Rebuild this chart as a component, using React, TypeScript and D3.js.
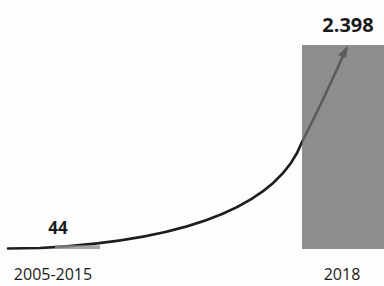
import React from "react";
import * as d3 from "d3";

const categories = ["2005-2015", "2018"];
const values = [44, 2398];
const valueLabels = ["44", "2.398"];

const W = 384;
const H = 286;

export default function App() {
  const y = d3.scaleLinear().domain([0, 2398]).range([249, 45]);
  const xLabel = d3.scaleOrdinal<string, number>().domain(categories).range([53, 342]);
  const barX = d3.scaleOrdinal<string, number>().domain(categories).range([55, 302]);
  const barW = d3.scaleOrdinal<string, number>().domain(categories).range([45, 90]);

  const y0 = y(0);
  const yTop = y(values[1]);
  const p = d3.path();
  p.moveTo(8, y0 - 0.5);
  p.lineTo(40, y0 - 1);
  p.bezierCurveTo(200, y0 - 9, 280, y0 - 49, 302, y0 - 107);
  p.quadraticCurveTo(326, yTop + 50, 346, yTop + 4);

  const tip = [348, yTop + 1];

  return (
    <svg width={W} height={H} style={{ position: "absolute", left: 0, top: 0, background: "#fdfdfd" }}>
      <path d={p.toString()} fill="none" stroke="#1e1e1e" strokeWidth={2.6} strokeLinecap="round" />
      <polygon
        points={`${tip[0]},${tip[1]} ${tip[0] - 10},${tip[1] + 9} ${tip[0] - 2},${tip[1] + 12}`}
        fill="#1e1e1e"
      />
      {categories.map((c, i) => (
        <rect
          key={c}
          x={barX(c)}
          y={y(values[i])}
          width={barW(c)}
          height={y0 - y(values[i])}
          fill={i === 0 ? "#909090" : "#6e6e6e"}
          fillOpacity={i === 0 ? 0.8 : 0.78}
        />
      ))}
      {categories.map((c, i) => (
        <text
          key={"v" + c}
          x={i === 0 ? 58 : 348}
          y={i === 0 ? 234 : 32}
          textAnchor="middle"
          fontFamily="Open Sans"
          fontWeight="bold"
          fontSize={i === 0 ? 17 : 20}
          fill="#1a1a1a"
        >
          {valueLabels[i]}
        </text>
      ))}
      {categories.map((c) => (
        <text
          key={"l" + c}
          x={xLabel(c)}
          y={280}
          textAnchor="middle"
          fontFamily="Open Sans"
          fontSize={16}
          fill="#1a1a1a"
        >
          {c}
        </text>
      ))}
    </svg>
  );
}
